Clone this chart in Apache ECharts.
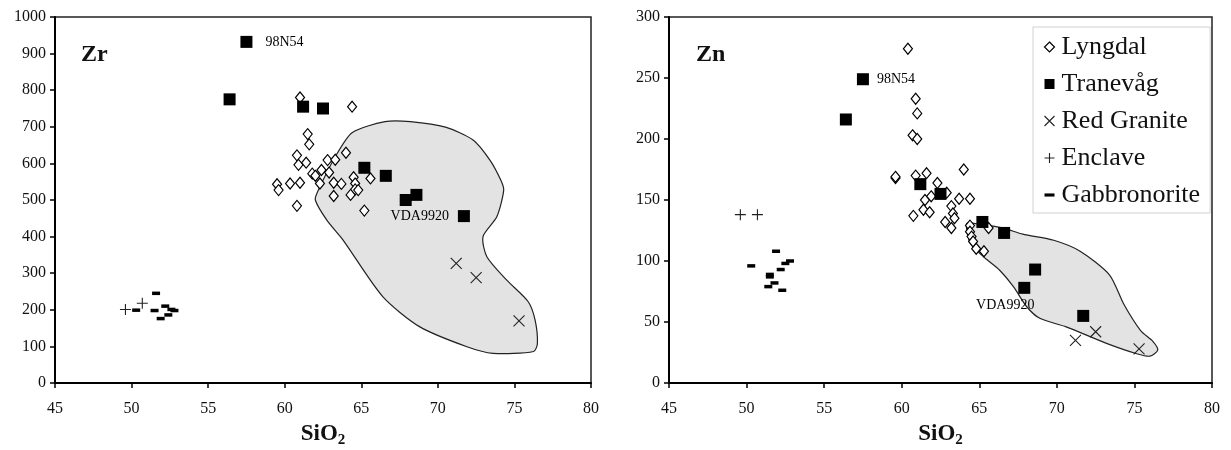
<!DOCTYPE html>
<html>
<head>
<meta charset="utf-8">
<script src="https://cdn.jsdelivr.net/npm/echarts@6/dist/echarts.min.js"></script>
<style>html,body{margin:0;padding:0;background:#fff}#c{width:1231px;height:450px}</style>
</head>
<body>
<div id="c"></div>
<script>
// ---------- DATA ----------
const xTicks = [45, 50, 55, 60, 65, 70, 75, 80];
const zrTicks = [0, 100, 200, 300, 400, 500, 600, 700, 800, 900, 1000];
const znTicks = [0, 50, 100, 150, 200, 250, 300];

const seriesNames = ['Lyngdal', 'Tranevåg', 'Red Granite', 'Enclave', 'Gabbronorite'];

// Tranevåg (same samples in both panels)
const tranevagSiO2 = [56.4, 57.5, 61.2, 62.5, 65.2, 66.6, 67.9, 68.6, 71.7];
const tranevagZr   = [775, 932, 755, 750, 588, 566, 500, 514, 456];
const tranevagZn   = [216, 249, 163, 155, 132, 123, 78, 93, 55];

// Red Granite
const redGraniteSiO2 = [71.2, 72.5, 75.3];
const redGraniteZr   = [327, 288, 170];
const redGraniteZn   = [35, 42, 28];

// Enclave
const enclaveSiO2 = [49.6, 50.7];
const enclaveZr   = [201, 218];
const enclaveZn   = [138, 138];

// Gabbronorite
const gabbroZr = [[51.6, 245], [50.3, 199], [51.5, 198], [52.2, 210], [52.6, 201], [52.8, 198], [52.4, 186], [51.9, 176]];
const gabbroZn = [[51.9, 108], [50.3, 96], [52.8, 100], [52.5, 98], [52.2, 93], [51.5, 89], [51.5, 87], [51.8, 82], [51.4, 79], [52.3, 76]];

// Lyngdal
const lyngdalZr = [[61.0, 780], [64.4, 755], [61.5, 680], [61.6, 652], [60.8, 622], [60.9, 596], [61.4, 602], [64.0, 629],
  [62.8, 609], [63.3, 610], [61.8, 572], [62.0, 566], [62.4, 582], [62.9, 575], [59.5, 543], [59.6, 527], [60.35, 545],
  [61.0, 547], [62.3, 545], [63.2, 547], [63.7, 544], [64.5, 562], [64.6, 545], [65.6, 559], [64.6, 529], [64.3, 514],
  [64.8, 527], [63.2, 511], [60.8, 484], [65.2, 471]];
const lyngdalZn = [[60.4, 274], [60.9, 233], [61.0, 221], [60.7, 203], [61.0, 200], [59.6, 168], [59.6, 169], [60.9, 170],
  [61.6, 172], [64.0, 175], [62.3, 164], [62.9, 156], [61.5, 150], [61.9, 153], [63.7, 151], [64.4, 151], [61.4, 142],
  [61.8, 140], [60.75, 137], [63.2, 145], [63.3, 139], [63.4, 135], [62.8, 132], [63.2, 127], [64.4, 129], [64.4, 124],
  [64.5, 120], [64.6, 116], [64.8, 110], [65.3, 108], [65.6, 127]];

// Outlined fields
const fieldZr = [[66.55, 714], [68.2, 714], [70.5, 699], [72.3, 664], [73.4, 609], [74.1, 555], [74.3, 527], [73.85, 454],
  [72.95, 400], [73.2, 345], [74.5, 281], [75.9, 222], [76.35, 172], [76.5, 108], [76.25, 86], [73.6, 81], [71.9, 99],
  [68.8, 154], [66.4, 236], [63.8, 391], [62.75, 445], [62.0, 500], [62.2, 527], [63.3, 618], [64.4, 684]];
const fieldZn = [[64.2, 131], [65.05, 130], [66.55, 127], [67.8, 122], [69.8, 117], [71.5, 108], [73.4, 88.5], [74.3, 65],
  [75.4, 43], [76.2, 34], [76.5, 27], [76.0, 22], [75.15, 24], [73.2, 32.5], [70.6, 46], [68.9, 53], [68.06, 62.5],
  [67.2, 79], [66.3, 92.6], [65.5, 101], [65.05, 106], [64.4, 115], [64.2, 125]];

// Annotations (sample name, tranevåg index)
const annotations = [{ text: '98N54', idx: 1 }, { text: 'VDA9920', idx: 8 }];

// ---------- CHART ----------
const FONT = '"Liberation Serif", "Times New Roman", serif';
const symbols = {
  'Lyngdal': { symbol: 'diamond', size: [9, 11], style: { color: '#fff', borderColor: '#000', borderWidth: 1.2, opacity: 1 } },
  'Tranevåg': { symbol: 'rect', size: 12, style: { color: '#000', opacity: 1 } },
  'Red Granite': { symbol: 'path://M0,0L10,10M10,0L0,10', size: 11, style: { color: 'none', borderColor: '#222', borderWidth: 1.1, opacity: 1 } },
  'Enclave': { symbol: 'path://M5,0L5,10M0,5L10,5', size: 11, style: { color: 'none', borderColor: '#222', borderWidth: 1.1, opacity: 1 } },
  'Gabbronorite': { symbol: 'rect', size: [8, 3.5], style: { color: '#000', opacity: 1 } }
};

function zip(xs, ys) { return xs.map((x, i) => [x, ys[i]]); }

function fieldSeries(pts, gi) {
  return {
    type: 'custom', xAxisIndex: gi, yAxisIndex: gi, z: 1, silent: true,
    data: [0],
    renderItem: function (params, api) {
      return {
        type: 'polygon',
        shape: { points: pts.map(p => api.coord(p)), smooth: 0.25 },
        style: { fill: '#e3e3e3', stroke: '#222', lineWidth: 1.2 }
      };
    }
  };
}

function scatter(name, data, gi, extra) {
  const s = symbols[name];
  return Object.assign({
    name: name, type: 'scatter', xAxisIndex: gi, yAxisIndex: gi, z: 3,
    symbol: s.symbol, symbolSize: s.size, itemStyle: s.style, data: data,
    emphasis: { disabled: true }, silent: true
  }, extra || {});
}

function tranevagData(ys, labelPos) {
  return zip(tranevagSiO2, ys).map((p, i) => {
    const a = annotations.find(q => q.idx === i);
    if (!a) return p;
    return {
      value: p,
      label: Object.assign({ show: true, formatter: a.text, color: '#000', fontFamily: FONT, fontSize: 14 }, labelPos[a.text])
    };
  });
}

const xAxisBase = {
  type: 'value', min: 45, max: 80, interval: 5,
  axisLine: { onZero: false, lineStyle: { color: '#000', width: 2 } },
  axisTick: { show: true, length: 5, lineStyle: { color: '#000', width: 1.5 } },
  splitLine: { show: false },
  axisLabel: { color: '#111', fontFamily: FONT, fontSize: 16, margin: 18 },
  name: '{a|SiO}{b|2}', nameLocation: 'middle', nameGap: 38,
  nameTextStyle: {
    rich: {
      a: { fontFamily: FONT, fontSize: 23, fontWeight: 'bold', color: '#111' },
      b: { fontFamily: FONT, fontSize: 15, fontWeight: 'bold', color: '#111', padding: [12, 0, 0, 0] }
    }
  }
};
function yAxis(gi, max, interval) {
  return {
    type: 'value', gridIndex: gi, min: 0, max: max, interval: interval,
    axisLine: { show: true, onZero: false, lineStyle: { color: '#000', width: 2 } },
    axisTick: { show: true, length: 5, lineStyle: { color: '#000', width: 1.5 } },
    splitLine: { show: false },
    axisLabel: { color: '#111', fontFamily: FONT, fontSize: 16, margin: 9, formatter: v => String(v) }
  };
}

const chart = echarts.init(document.getElementById('c'), null, { renderer: 'canvas' });
const option = {
  animation: false,
  backgroundColor: '#fff',
  title: [
    { text: 'Zr', left: 76, top: 38, textStyle: { fontFamily: FONT, fontSize: 24, fontWeight: 'bold', color: '#111' } },
    { text: 'Zn', left: 691, top: 38, textStyle: { fontFamily: FONT, fontSize: 24, fontWeight: 'bold', color: '#111' } }
  ],
  grid: [
    { left: 55, top: 17, width: 536, height: 366, outerBoundsMode: 'none', containLabel: false, show: true, borderColor: '#222', borderWidth: 1.5, backgroundColor: 'transparent' },
    { left: 669, top: 17, width: 543, height: 366, outerBoundsMode: 'none', containLabel: false, show: true, borderColor: '#222', borderWidth: 1.5, backgroundColor: 'transparent' }
  ],
  xAxis: [Object.assign({ gridIndex: 0 }, xAxisBase), Object.assign({ gridIndex: 1 }, xAxisBase)],
  yAxis: [yAxis(0, 1000, 100), yAxis(1, 300, 50)],
  legend: {
    orient: 'vertical', left: 1033, top: 27,
    backgroundColor: '#fff', borderColor: '#d0d0d0', borderWidth: 1,
    padding: [7, 10, 5, 9], itemGap: 11, itemWidth: 10, itemHeight: 10,
    selectedMode: false,
    textStyle: { fontFamily: FONT, fontSize: 26, color: '#111', padding: [0, 0, 0, 2] },
    data: seriesNames.map(n => ({ name: n, icon: n === 'Gabbronorite' ? 'path://M0,4L8,4L8,6.5L0,6.5Z' : symbols[n].symbol, itemStyle: symbols[n].style }))
  },
  series: [
    fieldSeries(fieldZr, 0),
    fieldSeries(fieldZn, 1),
    scatter('Lyngdal', lyngdalZr, 0),
    scatter('Tranevåg', tranevagData(tranevagZr, { '98N54': { position: 'right', distance: 13 }, 'VDA9920': { position: 'left', distance: 9 } }), 0),
    scatter('Red Granite', zip(redGraniteSiO2, redGraniteZr), 0),
    scatter('Enclave', zip(enclaveSiO2, enclaveZr), 0),
    scatter('Gabbronorite', gabbroZr, 0),
    scatter('Lyngdal', lyngdalZn, 1),
    scatter('Tranevåg', tranevagData(tranevagZn, { '98N54': { position: 'right', distance: 8 }, 'VDA9920': { position: 'inside', offset: [-78, -11] } }), 1),
    scatter('Red Granite', zip(redGraniteSiO2, redGraniteZn), 1),
    scatter('Enclave', zip(enclaveSiO2, enclaveZn), 1),
    scatter('Gabbronorite', gabbroZn, 1)
  ]
};
chart.setOption(option);
</script>
</body>
</html>
